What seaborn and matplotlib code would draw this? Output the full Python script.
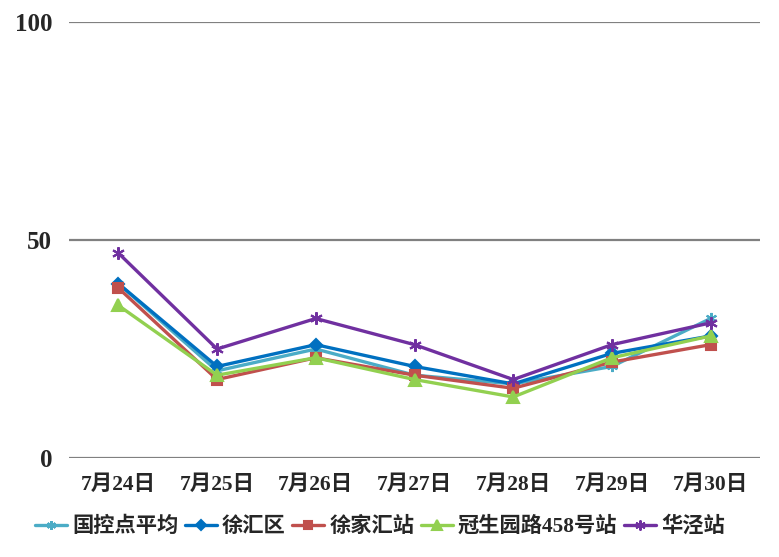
import numpy as np
import pandas as pd
import seaborn as sns
import matplotlib.pyplot as plt

dates = ["7月24日", "7月25日", "7月26日", "7月27日", "7月28日", "7月29日", "7月30日"]
series_names = ["国控点平均", "徐汇区", "徐家汇站", "冠生园路458号站", "华泾站"]
guokong = [40, 20, 25, 19, 17, 21, 32]
xuhui = [40, 21, 26, 21, 17, 24, 28]
xujiahui = [39, 18, 23, 19, 16, 22, 26]
guanshengyuan = [35, 19, 23, 18, 14, 23, 28]
huajing = [47, 25, 32, 26, 18, 26, 31]

colors = ["#4BACC6", "#0070C0", "#C0504D", "#92D050", "#7030A0"]
markers = [(6, 2, 0), "D", "s", "^", (6, 2, 0)]
msizes = [8, 6, 7, 9, 9]

rows = []
for name, vals in zip(series_names, [guokong, xuhui, xujiahui, guanshengyuan, huajing]):
    for d, v in zip(dates, vals):
        rows.append({"date": d, "value": v, "series": name})
df = pd.DataFrame(rows)

sns.set_style("white")
plt.rcParams["font.family"] = ["Liberation Serif", "Noto Sans CJK SC", "DejaVu Sans"]
plt.rcParams["font.weight"] = "bold"

fig = plt.figure(figsize=(7.79, 5.57), dpi=100)
ax = fig.add_axes([0.0886, 0.1777, 0.887, 0.7828])

for i, name in enumerate(series_names):
    sub = df[df["series"] == name]
    sns.lineplot(data=sub, x="date", y="value", ax=ax, color=colors[i],
                 marker=markers[i], markersize=msizes[i], markeredgecolor=colors[i],
                 markeredgewidth=1.5, linewidth=2.4, label=name, sort=False)

ax.set_xlim(-0.5, 6.5)
ax.set_ylim(0, 100)
ax.set_yticks([0, 50, 100])
ax.grid(axis="y", color="#808080", linewidth=1.6)
ax.set_axisbelow(True)
for s in ax.spines.values():
    s.set_visible(False)
ax.set_xlabel("")
ax.set_ylabel("")
ax.tick_params(axis="x", length=0, labelsize=15.5, pad=12)
ax.tick_params(axis="y", length=0, labelsize=18, pad=12)
for lab in ax.get_xticklabels() + ax.get_yticklabels():
    lab.set_fontweight("bold")

leg = ax.legend(loc="upper center", bbox_to_anchor=(0.45, -0.09), ncol=5, frameon=False,
                handlelength=1.5, handletextpad=0.25, columnspacing=0.3,
                markerscale=0.8, prop={"weight": "bold", "size": 15.3})

fig.savefig("out.png", dpi=100)
